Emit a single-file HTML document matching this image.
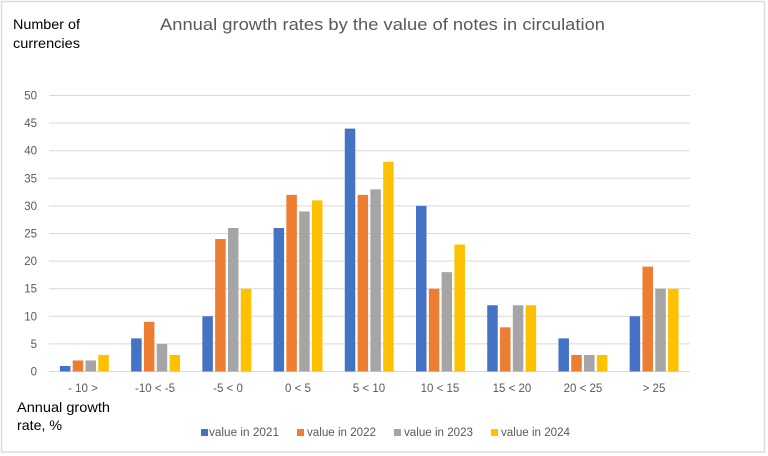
<!DOCTYPE html>
<html><head><meta charset="utf-8"><style>
html,body{margin:0;padding:0;background:#fff;}
svg{display:block;}
text{font-family:"Liberation Sans",sans-serif;}
</style></head><body>
<svg width="768" height="456" viewBox="0 0 768 456" xmlns="http://www.w3.org/2000/svg">
<rect x="0" y="0" width="768" height="456" fill="#fff"/>
<rect x="1.5" y="1.5" width="763" height="450.5" fill="none" stroke="#dcdcdc" stroke-width="1.5"/>
<text x="160" y="30" font-size="17" fill="#595959" textLength="445" lengthAdjust="spacingAndGlyphs">Annual growth rates by the value of notes in circulation</text>
<text x="13" y="29" font-size="14" fill="#000" textLength="67" lengthAdjust="spacingAndGlyphs">Number of</text>
<text x="13" y="48" font-size="14" fill="#000" textLength="67" lengthAdjust="spacingAndGlyphs">currencies</text>
<text x="17" y="412" font-size="14" fill="#000" textLength="93" lengthAdjust="spacingAndGlyphs">Annual growth</text>
<text x="17" y="430" font-size="14" fill="#000" textLength="45" lengthAdjust="spacingAndGlyphs">rate, %</text>
<g stroke="#d9d9d9" stroke-width="1">
<line x1="49" x2="690" y1="95.5" y2="95.5"/>
<line x1="49" x2="690" y1="123.1" y2="123.1"/>
<line x1="49" x2="690" y1="150.7" y2="150.7"/>
<line x1="49" x2="690" y1="178.3" y2="178.3"/>
<line x1="49" x2="690" y1="205.9" y2="205.9"/>
<line x1="49" x2="690" y1="233.5" y2="233.5"/>
<line x1="49" x2="690" y1="261.1" y2="261.1"/>
<line x1="49" x2="690" y1="288.7" y2="288.7"/>
<line x1="49" x2="690" y1="316.3" y2="316.3"/>
<line x1="49" x2="690" y1="343.9" y2="343.9"/>
<line x1="49" x2="690" y1="371.5" y2="371.5"/>
</g>
<g font-size="11.5" fill="#595959" text-anchor="end">
<text x="37" y="99.5">50</text>
<text x="37" y="127.1">45</text>
<text x="37" y="154.7">40</text>
<text x="37" y="182.3">35</text>
<text x="37" y="209.9">30</text>
<text x="37" y="237.5">25</text>
<text x="37" y="265.1">20</text>
<text x="37" y="292.7">15</text>
<text x="37" y="320.3">10</text>
<text x="37" y="347.9">5</text>
<text x="37" y="375.5">0</text>
</g>
<g id="bars"></g>
<g font-size="11.5" fill="#595959" text-anchor="middle">
<text x="83" y="392">- 10 &gt;</text>
<text x="155" y="392">-10 &lt; -5</text>
<text x="228" y="392">-5 &lt; 0</text>
<text x="298" y="392">0 &lt; 5</text>
<text x="369" y="392">5 &lt; 10</text>
<text x="440" y="392">10 &lt;  15</text>
<text x="512" y="392">15 &lt; 20</text>
<text x="583" y="392">20 &lt; 25</text>
<text x="654" y="392">&gt; 25</text>
</g>
<rect x="201" y="429" width="7" height="7" fill="#4472C4"/>
<rect x="297" y="429" width="7" height="7" fill="#ED7D31"/>
<rect x="394" y="429" width="7" height="7" fill="#A5A5A5"/>
<rect x="491" y="429" width="7" height="7" fill="#FFC000"/>
<g font-size="11.5" fill="#595959">
<text x="209" y="436" textLength="70" lengthAdjust="spacingAndGlyphs">value in 2021</text>
<text x="307" y="436" textLength="69" lengthAdjust="spacingAndGlyphs">value in 2022</text>
<text x="404" y="436" textLength="69" lengthAdjust="spacingAndGlyphs">value in 2023</text>
<text x="501" y="436" textLength="69" lengthAdjust="spacingAndGlyphs">value in 2024</text>
</g>
<script>
(function(){
var data=[[1,2,2,3],[6,9,5,3],[10,24,26,15],[26,32,29,31],[44,32,33,38],[30,15,18,23],[12,8,12,12],[6,3,3,3],[10,19,15,15]];
var cols=["#4472C4","#ED7D31","#A5A5A5","#FFC000"];
var offs=[-24.7,-11.9,0.9,13.7];
var g=document.getElementById("bars");
var ns="http://www.w3.org/2000/svg";
var y0=371.5, k=5.52;
for(var i=0;i<9;i++){
 var c=49+71.22*(i+0.5);
 for(var j=0;j<4;j++){
  var v=data[i][j];var h=v*k;
  var r=document.createElementNS(ns,"rect");
  r.setAttribute("x",(c+offs[j]).toFixed(2));
  r.setAttribute("y",(y0-h).toFixed(2));
  r.setAttribute("width","10.5");
  r.setAttribute("height",h.toFixed(2));
  r.setAttribute("fill",cols[j]);
  g.appendChild(r);
 }
}
})();
</script>
</svg>
</body></html>
